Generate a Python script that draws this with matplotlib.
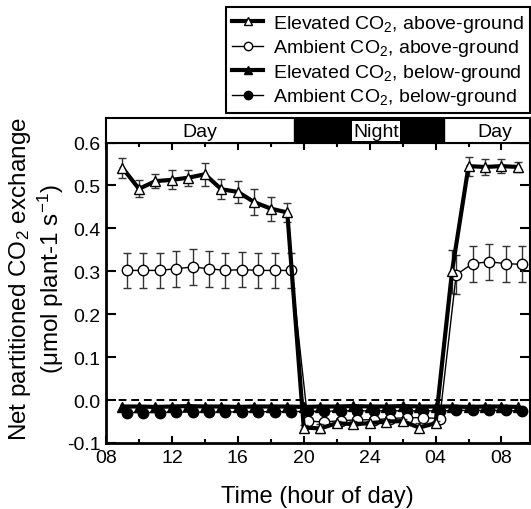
import numpy as np
import matplotlib
matplotlib.use('Agg')
import matplotlib.pyplot as plt
from matplotlib.patches import Rectangle
from matplotlib.lines import Line2D

plt.rcParams['font.family'] = ['Liberation Sans', 'DejaVu Sans']
plt.rcParams['mathtext.fontset'] = 'custom'
plt.rcParams['mathtext.rm'] = 'Liberation Sans'
plt.rcParams['mathtext.it'] = 'Liberation Sans:italic'

"""
Data read off the figure (hour of day, 9 am to 9 am next day; >24 means next day)
"""
hours = np.arange(9, 34)
hours_amb = hours + 0.25
elev_above = [0.541, 0.492, 0.510, 0.513, 0.518, 0.526, 0.491, 0.485, 0.461, 0.446, 0.437,
              -0.064, -0.066, -0.054, -0.056, -0.054, -0.050, -0.049, -0.064, -0.054,
              0.300, 0.545, 0.543, 0.545, 0.543]
elev_above_err = [0.024, 0.020, 0.016, 0.022, 0.019, 0.027, 0.023, 0.026, 0.031, 0.028, 0.023,
                  0.006, 0.010, 0.006, 0.008, 0.006, 0.006, 0.006, 0.010, 0.006,
                  0.050, 0.022, 0.018, 0.016, 0.012]
amb_above = [0.302, 0.302, 0.302, 0.306, 0.310, 0.306, 0.302, 0.304, 0.302, 0.302, 0.302,
             -0.049, -0.051, -0.048, -0.046, -0.046, -0.043, -0.041, -0.041, -0.043,
             0.292, 0.318, 0.322, 0.318, 0.316]
amb_above_err = [0.040, 0.040, 0.040, 0.042, 0.042, 0.042, 0.040, 0.040, 0.040, 0.040, 0.040,
                 0.005, 0.005, 0.005, 0.005, 0.005, 0.005, 0.005, 0.005, 0.005,
                 0.045, 0.042, 0.042, 0.042, 0.042]
elev_below = [-0.015, -0.015, -0.016, -0.015, -0.014, -0.015, -0.015, -0.016, -0.015, -0.015, -0.015,
              -0.016, -0.015, -0.015, -0.014, -0.015, -0.015, -0.014, -0.015, -0.015,
              -0.015, -0.016, -0.015, -0.015, -0.016]
amb_below = [-0.029, -0.029, -0.029, -0.028, -0.028, -0.028, -0.028, -0.027, -0.027, -0.027, -0.027,
             -0.026, -0.026, -0.025, -0.025, -0.025, -0.025, -0.025, -0.025, -0.025,
             -0.024, -0.024, -0.024, -0.024, -0.026]
xtick_pos = [8, 12, 16, 20, 24, 28, 32]
xtick_labels = ['08', '12', '16', '20', '24', '04', '08']
night_start, night_end = 19.4, 28.5
labels = ['Elevated CO$_2$, above-ground', 'Ambient CO$_2$, above-ground',
          'Elevated CO$_2$, below-ground', 'Ambient CO$_2$, below-ground']

xmin, xmax = 8, 33.7
fig = plt.figure(figsize=(5.31, 5.10), dpi=100)
ax = fig.add_axes([106/531, 1-444/510, 423.5/531, 300.5/510])
ax_top = fig.add_axes([106/531, 1-143.5/510, 423.5/531, 25/510])

# zero reference line
ax.axhline(0, color='k', ls=(0, (4, 2.5)), lw=1.4, zorder=1)

# below-ground series
ax.plot(hours_amb, amb_below, '-o', color='k', lw=1.0, ms=7.5, mfc='k', zorder=3)
ax.plot(hours, elev_below, '-^', color='k', lw=3.0, ms=6.5, mfc='k', zorder=3)
# above-ground series
ax.errorbar(hours_amb, amb_above, yerr=amb_above_err, fmt='-o', color='k', lw=1.0, ms=7.5,
            mfc='white', mec='k', mew=1.0, ecolor='#333333', elinewidth=1.0, capsize=3, zorder=4)
ax.errorbar(hours, elev_above, yerr=elev_above_err, fmt='-^', color='k', lw=3.0, ms=7.5,
            mfc='white', mec='k', mew=1.0, ecolor='#333333', elinewidth=1.0, capsize=3, zorder=5)

ax.set_xlim(xmin, xmax)
ax.set_ylim(-0.1, 0.6)
ax.set_xticks(xtick_pos)
ax.set_xticklabels(xtick_labels)
ax.set_xticks(np.arange(10, 34, 4), minor=True)
ax.set_yticks(np.arange(-0.1, 0.61, 0.1))
ax.set_yticklabels(['{0:.1f}'.format(v) for v in np.arange(-0.1, 0.61, 0.1)])
ax.tick_params(which='both', direction='in', top=True, right=True, labelsize=14, width=1.5)
ax.tick_params(which='major', length=5)
ax.tick_params(which='minor', length=3)
ax.tick_params(axis='x', which='major', pad=4)
ax.tick_params(axis='y', which='major', length=7, pad=4)
for s in ax.spines.values():
    s.set_linewidth(1.5)
ax.spines['left'].set_linewidth(2)
ax.spines['bottom'].set_linewidth(2)
ax.set_xlabel('Time (hour of day)', fontsize=17, labelpad=14)
ax.set_ylabel('Net partitioned CO$_2$ exchange\n(μmol plant-1 s$^{-1}$)', fontsize=17.5,
              linespacing=1.15)
ax.yaxis.set_label_coords(-0.094, 0.55)

# Day / Night bar
ax_top.set_xlim(xmin, xmax)
ax_top.set_ylim(0, 1)
ax_top.add_patch(Rectangle((night_start, 0), night_end-night_start, 1, color='k'))
ax_top.text((xmin+night_start)/2, 0.45, 'Day', ha='center', va='center', fontsize=14)
ax_top.text(24.4, 0.45, 'Night', ha='center', va='center', fontsize=14,
            bbox=dict(facecolor='white', edgecolor='none', pad=1))
ax_top.text(31.6, 0.45, 'Day', ha='center', va='center', fontsize=14)
ax_top.set_xticks([])
ax_top.set_yticks([])
for s in ax_top.spines.values():
    s.set_linewidth(1.5)

handles = [Line2D([], [], color='k', lw=3.0, marker='^', ms=6, mfc='white', mec='k'),
           Line2D([], [], color='k', lw=1.0, marker='o', ms=6, mfc='white', mec='k'),
           Line2D([], [], color='k', lw=3.0, marker='^', ms=6, mfc='k'),
           Line2D([], [], color='k', lw=1.0, marker='o', ms=6, mfc='k')]
leg = fig.legend(handles, labels, loc='upper right', bbox_to_anchor=(529.5/531, 1-8/510),
                 fontsize=14, handlelength=1.6, handletextpad=0.5, labelspacing=0.18,
                 borderpad=0.3, fancybox=False, framealpha=1, edgecolor='k',
                 borderaxespad=0)
leg.get_frame().set_linewidth(1.5)

plt.savefig('out.png', dpi=100)
plt.close()
